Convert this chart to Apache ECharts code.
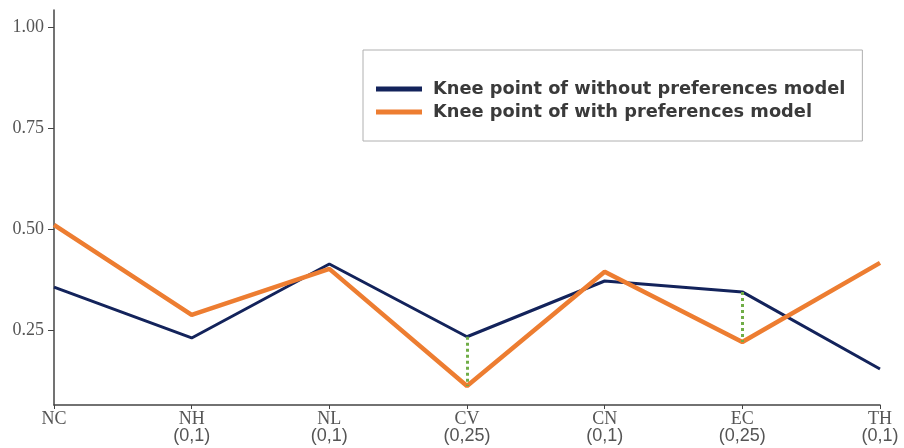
<!DOCTYPE html>
<html>
<head>
<meta charset="utf-8">
<script src="https://cdn.jsdelivr.net/npm/echarts@6/dist/echarts.min.js"></script>
<style>html,body{margin:0;padding:0;background:#fff;}#c{width:904px;height:448px;}</style>
</head>
<body>
<div id="c"></div>
<script>
var categories = ['NC', 'NH', 'NL', 'CV', 'CN', 'EC', 'TH'];
var subLabels = ['', '(0,1)', '(0,1)', '(0,25)', '(0,1)', '(0,25)', '(0,1)'];
var withoutPref = [0.356, 0.230, 0.413, 0.233, 0.371, 0.344, 0.153];
var withPref = [0.510, 0.287, 0.401, 0.111, 0.394, 0.220, 0.416];
var gapCategories = ['CV', 'EC'];
var yTicks = [0.25, 0.50, 0.75, 1.00];
var seriesNames = ['Knee point of without preferences model', 'Knee point of with preferences model'];

var gapLines = gapCategories.map(function (c) {
  var i = categories.indexOf(c);
  return [{ coord: [c, withoutPref[i]] }, { coord: [c, withPref[i]] }];
});

var chart = echarts.init(document.getElementById('c'), null, { renderer: 'canvas' });
chart.setOption({
  animation: false,
  backgroundColor: '#fff',
  grid: { left: 54, right: 24, top: 10, bottom: 43 },
  legend: {
    orient: 'vertical',
    left: 363, top: 50,
    padding: [30, 17, 20, 13],
    borderColor: '#b0b0b0', borderWidth: 1,
    itemWidth: 46, itemHeight: 5, itemGap: 5,
    icon: 'rect',
    textStyle: { fontFamily: 'DejaVu Sans', fontWeight: 'bold', fontSize: 17.8, lineHeight: 18, color: '#3a3a3a', padding: [0, 0, 0, 6] },
    data: seriesNames
  },
  xAxis: {
    type: 'category',
    data: categories,
    boundaryGap: false,
    axisLine: { lineStyle: { color: '#444', width: 1.5 } },
    axisTick: { show: true, alignWithLabel: true, length: 4, lineStyle: { color: '#444' } },
    axisLabel: {
      interval: 0,
      margin: 6,
      formatter: function (v, i) {
        var s = '{a|' + v + '}';
        if (subLabels[i]) s += '\n{b|' + subLabels[i] + '}';
        return s;
      },
      rich: {
        a: { fontFamily: 'Liberation Serif', fontSize: 18, color: '#555', lineHeight: 17 },
        b: { fontFamily: 'Liberation Sans', fontSize: 18, color: '#555', lineHeight: 17 }
      }
    }
  },
  yAxis: {
    type: 'value',
    min: 0.064, max: 1.042,
    splitLine: { show: false },
    axisLine: { show: true, lineStyle: { color: '#444', width: 1.5 } },
    axisTick: { show: true, length: 6, customValues: yTicks, lineStyle: { color: '#444' } },
    axisLabel: {
      customValues: yTicks,
      margin: 10,
      formatter: function (v) { return v.toFixed(2); },
      fontFamily: 'Liberation Serif', fontSize: 18, color: '#555'
    }
  },
  series: [
    {
      name: seriesNames[0], type: 'line', data: withoutPref,
      symbol: 'none', color: '#13235b',
      lineStyle: { width: 3, color: '#13235b' },
      markLine: {
        silent: true, symbol: 'none', label: { show: false },
        lineStyle: { color: '#70ad47', type: [3, 3], width: 3 },
        data: gapLines
      }
    },
    {
      name: seriesNames[1], type: 'line', data: withPref,
      symbol: 'none', color: '#ed7d31',
      lineStyle: { width: 4.5, color: '#ed7d31' }
    }
  ]
});
</script>
</body>
</html>
